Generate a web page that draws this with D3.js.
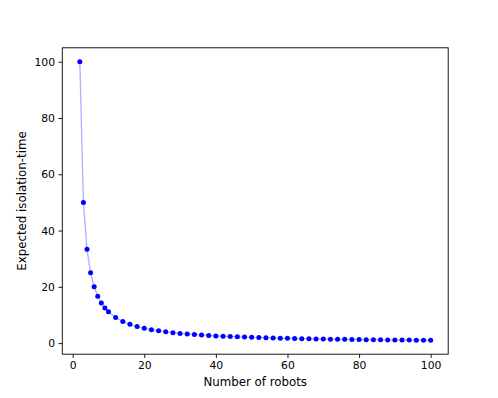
<!DOCTYPE html>
<html>
<head>
<meta charset="utf-8">
<script src="https://cdn.jsdelivr.net/npm/d3@7"></script>
<style>
  body { margin: 0; background: #fff; }
  svg { display: block; font-family: "DejaVu Sans", sans-serif; }
</style>
</head>
<body>
<svg id="chart" width="498" height="398"></svg>
<script>
// Number of robots vs expected isolation-time
const robots = [2, 3, 4, 5, 6, 7, 8, 9, 10,
  12, 14, 16, 18, 20, 22, 24, 26, 28, 30, 32, 34, 36, 38, 40, 42, 44, 46, 48, 50,
  52, 54, 56, 58, 60, 62, 64, 66, 68, 70, 72, 74, 76, 78, 80, 82, 84, 86, 88, 90,
  92, 94, 96, 98, 100];
const isolationTime = [100, 50, 33.33, 25, 20, 16.67, 14.29, 12.5, 11.11,
  9.09, 7.69, 6.67, 5.88, 5.26, 4.76, 4.35, 4.0, 3.70, 3.45, 3.23, 3.03, 2.86, 2.70, 2.56, 2.44, 2.33, 2.22, 2.13, 2.04,
  1.96, 1.89, 1.82, 1.75, 1.69, 1.64, 1.59, 1.54, 1.49, 1.45, 1.41, 1.37, 1.33, 1.30, 1.27, 1.23, 1.20, 1.18, 1.15, 1.12,
  1.10, 1.08, 1.05, 1.03, 1.01];
const xTicks = [0, 20, 40, 60, 80, 100];
const yTicks = [0, 20, 40, 60, 80, 100];

const svg = d3.select("#chart");
const W = 498, H = 398;
const margin = { top: 47.8, right: 49.8, bottom: 43.8, left: 62.3 };
const iw = W - margin.left - margin.right;
const ih = H - margin.top - margin.bottom;

const g = svg.append("g").attr("transform", `translate(${margin.left},${margin.top})`);

// matplotlib-style 5% padding around the data
const xPad = (d3.max(robots) - d3.min(robots)) * 0.05;
const yPad = (d3.max(isolationTime) - d3.min(isolationTime)) * 0.05;
const x = d3.scaleLinear().domain([d3.min(robots) - xPad, d3.max(robots) + xPad]).range([0, iw]);
const y = d3.scaleLinear().domain([d3.min(isolationTime) - yPad, d3.max(isolationTime) + yPad]).range([ih, 0]);

const pts = robots.map((r, i) => ({ r, v: isolationTime[i] }));

g.append("path")
  .datum(pts)
  .attr("fill", "none")
  .attr("stroke", "#0000ff")
  .attr("stroke-opacity", 0.3)
  .attr("stroke-width", 1.4)
  .attr("d", d3.line().x(d => x(d.r)).y(d => y(d.v)));

g.selectAll("circle.pt")
  .data(pts)
  .join("circle")
  .attr("class", "pt")
  .attr("cx", d => x(d.r))
  .attr("cy", d => y(d.v))
  .attr("r", 2.5)
  .attr("fill", "#0000ff");

const xAxis = g.append("g").attr("transform", `translate(0,${ih})`)
  .call(d3.axisBottom(x).tickValues(xTicks).tickSize(3.8).tickPadding(3.5));
const yAxis = g.append("g")
  .call(d3.axisLeft(y).tickValues(yTicks).tickSize(3.8).tickPadding(3.5));
[xAxis, yAxis].forEach(a => {
  a.select(".domain").remove();
  a.selectAll("line").attr("stroke", "#000").attr("stroke-width", 0.9);
  a.selectAll("text").attr("font-size", 10.8).attr("fill", "#000")
    .attr("font-family", "DejaVu Sans");
});

g.append("rect")
  .attr("width", iw).attr("height", ih)
  .attr("fill", "none").attr("stroke", "#000").attr("stroke-width", 0.9);

svg.append("text")
  .attr("x", margin.left + iw / 2).attr("y", 386)
  .attr("text-anchor", "middle").attr("font-size", 11.8)
  .text("Number of robots");

svg.append("text")
  .attr("transform", `translate(26,${margin.top + ih / 2}) rotate(-90)`)
  .attr("text-anchor", "middle").attr("font-size", 11.8)
  .text("Expected isolation-time");
</script>
</body>
</html>
